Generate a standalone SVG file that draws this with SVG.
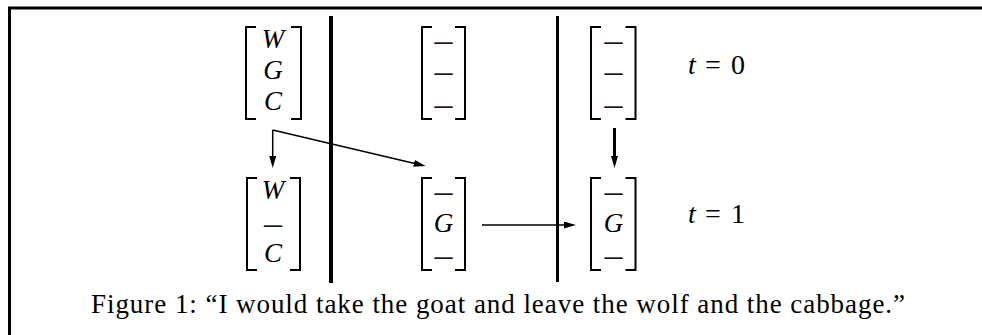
<svg xmlns="http://www.w3.org/2000/svg" width="982" height="335" viewBox="0 0 982 335">
<style>
  .br { fill: none; stroke: #000; stroke-width: 2; stroke-linecap: butt; }
  .m { font-family: "Liberation Serif", "Times New Roman", serif; font-size: 27px; fill: #000; text-anchor: middle; }
  .d { font-size: 21px; stroke: #000; stroke-width: 0.6; }
  .i { font-style: italic; }
  .lbl { font-family: "Liberation Serif", "Times New Roman", serif; font-size: 28px; fill: #000; }
  .cap { font-family: "Liberation Serif", "Times New Roman", serif; font-size: 27px; fill: #000; }
  .conn { fill: none; stroke: #000; stroke-width: 1.5; }
  .thick { stroke-width: 3; }
  .div { stroke: #000; }
</style>
<defs>
  <marker id="arr" viewBox="0 0 12 7" refX="4" refY="3.5" markerWidth="12" markerHeight="7" markerUnits="userSpaceOnUse" orient="auto">
    <path d="M0,0 L12,3.5 L0,7 z" fill="#000"/>
  </marker>
</defs>
<rect x="0" y="0" width="982" height="335" fill="#fff"/>
<path d="M9.5,335 V8 H982" fill="none" stroke="#000" stroke-width="3"/>

<g id="dividers">
  <line class="div" x1="331" y1="16" x2="331" y2="283" stroke-width="4"/>
  <line class="div" x1="557.5" y1="16" x2="557.5" y2="282" stroke-width="3"/>
</g>

<g id="m1-t0">
  <path class="br" d="M256,27 H246 V119 H256 M291,27 H301 V119 H291"/>
  <text class="m i" x="273" y="48">W</text>
  <text class="m i" x="273" y="78.5">G</text>
  <text class="m i" x="273" y="110">C</text>
</g>
<g id="m2-t0">
  <path class="br" d="M432,27 H422 V119 H432 M455,27 H465 V119 H455"/>
  <text class="m d" x="443.5" y="49.8" textLength="21" lengthAdjust="spacingAndGlyphs">−</text>
  <text class="m d" x="443.5" y="81.1" textLength="21" lengthAdjust="spacingAndGlyphs">−</text>
  <text class="m d" x="443.5" y="114.1" textLength="21" lengthAdjust="spacingAndGlyphs">−</text>
</g>
<g id="m3-t0">
  <path class="br" d="M601,27 H591 V119 H601 M625.5,27 H635.5 V119 H625.5"/>
  <text class="m d" x="613.5" y="49.8" textLength="21" lengthAdjust="spacingAndGlyphs">−</text>
  <text class="m d" x="613.5" y="81.1" textLength="21" lengthAdjust="spacingAndGlyphs">−</text>
  <text class="m d" x="613.5" y="114.1" textLength="21" lengthAdjust="spacingAndGlyphs">−</text>
</g>
<g id="label-t0">
  <text class="lbl i" x="688" y="74">t</text>
  <text class="lbl" x="713" y="74" text-anchor="middle">=</text>
  <text class="lbl" x="731" y="74">0</text>
</g>

<g id="m1-t1">
  <path class="br" d="M257,178 H247 V270 H257 M290,178 H300 V270 H290"/>
  <text class="m i" x="273" y="198.5">W</text>
  <text class="m d" x="273" y="233.1" textLength="21" lengthAdjust="spacingAndGlyphs">−</text>
  <text class="m i" x="273" y="262">C</text>
</g>
<g id="m2-t1">
  <path class="br" d="M432,178 H422 V270 H432 M455,178 H465 V270 H455"/>
  <text class="m d" x="443.5" y="201.1" textLength="21" lengthAdjust="spacingAndGlyphs">−</text>
  <text class="m i" x="443.5" y="231.5">G</text>
  <text class="m d" x="443.5" y="265.1" textLength="21" lengthAdjust="spacingAndGlyphs">−</text>
</g>
<g id="m3-t1">
  <path class="br" d="M601,178 H591 V270 H601 M625.5,178 H635.5 V270 H625.5"/>
  <text class="m d" x="613.5" y="201.1" textLength="21" lengthAdjust="spacingAndGlyphs">−</text>
  <text class="m i" x="613.5" y="231.5">G</text>
  <text class="m d" x="613.5" y="265.1" textLength="21" lengthAdjust="spacingAndGlyphs">−</text>
</g>
<g id="label-t1">
  <text class="lbl i" x="688" y="223">t</text>
  <text class="lbl" x="713" y="223" text-anchor="middle">=</text>
  <text class="lbl" x="731" y="223">1</text>
</g>

<g id="connectors">
  <path class="conn" d="M272.7,130 V160" marker-end="url(#arr)"/>
  <path class="conn" d="M272.7,130 L417.9,164.2" marker-end="url(#arr)"/>
  <path class="conn" d="M482,225 H568" marker-end="url(#arr)"/>
  <path class="conn thick" d="M614.5,128 V160" marker-end="url(#arr)"/>
</g>

<g id="caption">
  <text class="cap" x="91" y="313" textLength="814" lengthAdjust="spacing">Figure 1: “I would take the goat and leave the wolf and the cabbage.”</text>
</g>
</svg>
